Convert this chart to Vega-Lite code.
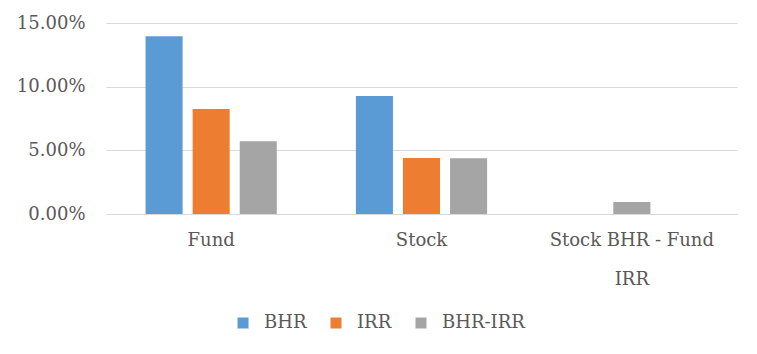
{
  "$schema": "https://vega.github.io/schema/vega-lite/v6.json",
  "autosize": {"type": "none"},
  "width": 631,
  "height": 191,
  "padding": {"left": 106, "top": 23, "right": 20, "bottom": 140},
  "background": "white",
  "data": {"values": [
    {"category": "Fund", "series": "BHR", "slot": 1, "value": 0.1395},
    {"category": "Fund", "series": "IRR", "slot": 2, "value": 0.0825},
    {"category": "Fund", "series": "BHR-IRR", "slot": 3, "value": 0.0572},
    {"category": "Stock", "series": "BHR", "slot": 1, "value": 0.0927},
    {"category": "Stock", "series": "IRR", "slot": 2, "value": 0.044},
    {"category": "Stock", "series": "BHR-IRR", "slot": 3, "value": 0.0438},
    {"category": "Stock BHR - Fund IRR", "series": "BHR-IRR", "slot": 2, "value": 0.0094}
  ]},
  "mark": {"type": "bar"},
  "encoding": {
    "x": {
      "field": "category", "type": "nominal", "sort": null, "title": null,
      "scale": {"paddingInner": 0, "paddingOuter": 0},
      "axis": {
        "labelAngle": 0, "ticks": false, "domain": true, "domainColor": "#D9D9D9", "domainWidth": 1,
        "labelFont": "DejaVu Serif", "labelFontSize": 18, "labelColor": "#595959",
        "labelPadding": 17, "labelLineHeight": 39,
        "labelExpr": "datum.label == 'Stock BHR - Fund IRR' ? ['Stock BHR - Fund', 'IRR'] : datum.label"
      }
    },
    "xOffset": {
      "field": "slot", "type": "ordinal",
      "scale": {"domain": [1, 2, 3], "paddingInner": 0.213, "paddingOuter": 0.84}
    },
    "y": {
      "field": "value", "type": "quantitative", "title": null,
      "scale": {"domain": [0, 0.15], "nice": false},
      "axis": {
        "values": [0, 0.05, 0.1, 0.15], "format": ".2%", "domain": false, "ticks": false,
        "labelFont": "DejaVu Serif", "labelFontSize": 18, "labelColor": "#595959",
        "labelPadding": 21, "gridColor": "#D9D9D9", "gridWidth": 1
      }
    },
    "color": {
      "field": "series", "type": "nominal", "title": null,
      "scale": {"domain": ["BHR", "IRR", "BHR-IRR"], "range": ["#5B9BD5", "#ED7D31", "#A5A5A5"]},
      "legend": {
        "orient": "none", "direction": "horizontal", "legendX": 128, "legendY": 291,
        "symbolType": "square", "symbolSize": 121, "symbolStrokeWidth": 0,
        "labelFont": "DejaVu Serif", "labelFontSize": 18, "labelColor": "#595959",
        "labelOffset": 12, "columnPadding": 20
      }
    }
  },
  "config": {"view": {"stroke": null}}
}
